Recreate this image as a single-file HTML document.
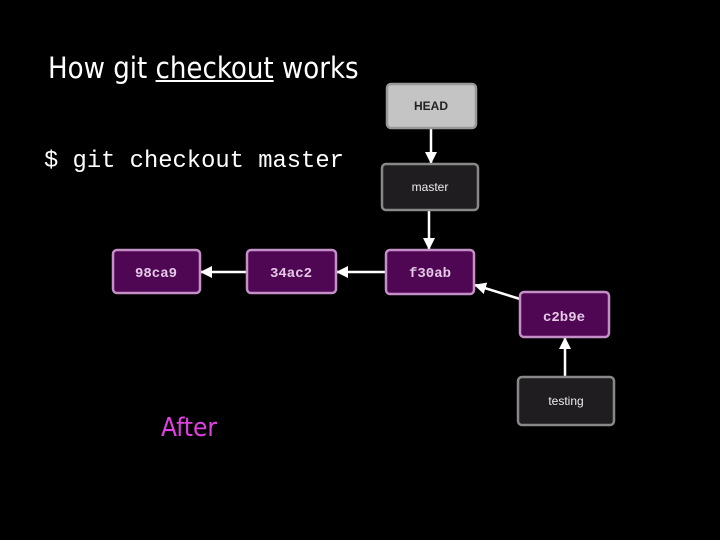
<!DOCTYPE html>
<html><head><style>
body{margin:0;background:#000;width:720px;height:540px;overflow:hidden;position:relative;font-family:"Liberation Sans",sans-serif}
.t{position:absolute;color:#fff}
</style></head><body>
<div class="t" style="left:48px;top:51px;font-size:29px;font-family:'DejaVu Sans Condensed','Liberation Sans',sans-serif">How git <u>checkout</u> works</div>
<div class="t" style="left:44px;top:148px;font-size:23.8px;font-family:'Liberation Mono',monospace">$ git checkout master</div>
<div class="t" style="left:161px;top:413px;font-size:26px;color:#e040e0;font-family:'DejaVu Sans Condensed','Liberation Sans',sans-serif">After</div>
<svg width="720" height="540" style="position:absolute;left:0;top:0">
<defs><marker id="a" markerWidth="12" markerHeight="12" refX="11" refY="6" orient="auto" markerUnits="userSpaceOnUse"><path d="M0,0L12,6L0,12z" fill="#fff"/></marker></defs>
<g stroke="#fff" stroke-width="2.5" marker-end="url(#a)">
<line x1="431" y1="128" x2="431" y2="163"/>
<line x1="429" y1="210" x2="429" y2="249"/>
<line x1="386" y1="272" x2="337" y2="272"/>
<line x1="247" y1="272" x2="201" y2="272"/>
<line x1="520" y1="299" x2="475" y2="285"/>
<line x1="565" y1="377" x2="565" y2="338"/>
</g>
<g stroke-width="2.5">
<rect x="387" y="84" width="89" height="44" rx="4" fill="#c4c4c4" stroke="#999"/>
<rect x="382" y="164" width="96" height="46" rx="4" fill="#1f1d1f" stroke="#888"/>
<rect x="518" y="377" width="96" height="48" rx="4" fill="#1f1d1f" stroke="#888"/>
<g fill="#4f0753" stroke="#c38fc6">
<rect x="386" y="250" width="88" height="44" rx="4"/>
<rect x="520" y="292" width="89" height="45" rx="4"/>
<rect x="113" y="250" width="87" height="43" rx="4"/>
<rect x="247" y="250" width="89" height="43" rx="4"/>
</g></g>
<g font-size="12" text-anchor="middle">
<text x="431" y="110" font-weight="bold" fill="#222">HEAD</text>
<text x="430" y="191" fill="#eee">master</text>
<text x="566" y="405" fill="#eee">testing</text>
</g>
<g font-size="14" font-weight="bold" text-anchor="middle" fill="#e4c8e6" font-family="Liberation Mono,monospace">
<text x="430" y="277">f30ab</text>
<text x="564" y="321">c2b9e</text>
<text x="156" y="277">98ca9</text>
<text x="291" y="277">34ac2</text>
</g>
</svg>
</body></html>
